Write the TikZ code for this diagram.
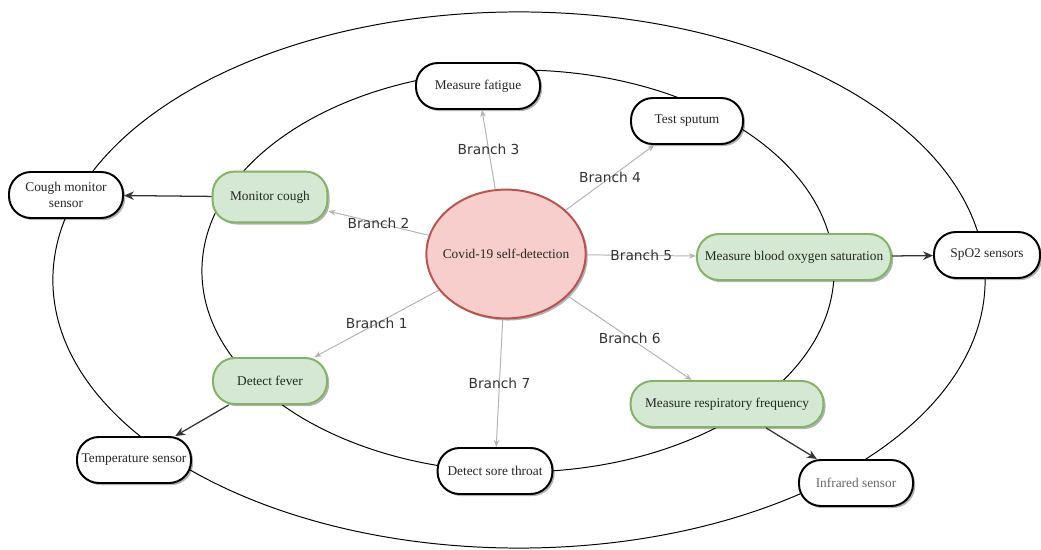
\documentclass[tikz,border=0pt]{standalone}
\usepackage{fontspec}
\setmainfont{Liberation Serif}
\newfontfamily\branchfont{DejaVu Sans}
\usepackage{tikz}
\usetikzlibrary{arrows.meta,shapes.geometric,shadows}

\definecolor{symfill}{HTML}{D5E8D4}
\definecolor{symline}{HTML}{82B366}
\definecolor{hubfill}{HTML}{F8CECC}
\definecolor{hubline}{HTML}{B85450}
\definecolor{branchgray}{HTML}{B3B3B3}
\definecolor{linkgray}{HTML}{333333}

\begin{document}
\begin{tikzpicture}[x=0.025cm, y=-0.025cm,
    sensor/.style={draw=black, line width=1.4pt, fill=white, text=black!85,
        rounded corners=0.55cm, minimum height=1.15cm, inner sep=1pt,
        font={\fontsize{9.5}{11}\selectfont},
        drop shadow={shadow xshift=1.5pt, shadow yshift=-1.5pt, opacity=0.3, fill=black}},
    symptom/.style={sensor, draw=symline, fill=symfill},
    hub/.style={ellipse, draw=hubline, line width=1.4pt, fill=hubfill, text=black!85,
        minimum width=3.98cm, minimum height=3.22cm, inner xsep=-0.3cm, inner ysep=0pt,
        font={\fontsize{9.5}{11}\selectfont},
        drop shadow={shadow xshift=1.5pt, shadow yshift=-1.5pt, opacity=0.3, fill=black}},
    branch/.style={draw=branchgray, line width=0.7pt, -{Stealth[length=5pt, width=4pt]}},
    blabel/.style={midway, text=linkgray, font={\branchfont\fontsize{9.8}{11}\selectfont}},
    link/.style={draw=linkgray, line width=0.9pt, -{Stealth[length=7pt, width=6pt]}}]
        \useasboundingbox (0,0) rectangle (1041,550);
        \draw[line width=0.7pt] (519,280) ellipse [x radius=11.65cm, y radius=6.7cm];
        \draw[line width=0.7pt] (518,271) ellipse [x radius=7.9cm, y radius=5.025cm];

        \node[hub] (hub) at (506,254) {Covid-19 self-detection};
        \node[sensor, minimum width=3.1cm] (fatigue) at (478,86) {Measure fatigue};
        \node[sensor, minimum width=2.8cm] (sputum) at (687,121) {Test sputum};
        \node[symptom, minimum width=2.87cm, minimum height=1.27cm] (cough) at (270,197) {Monitor cough};
        \node[symptom, minimum width=4.85cm] (oxygen) at (794,257) {Measure blood oxygen saturation};
        \node[symptom, minimum width=2.85cm] (fever) at (270,381) {Detect fever};
        \node[symptom, minimum width=4.82cm] (breath) at (727,404) {Measure respiratory frequency};
        \node[sensor, minimum width=2.87cm] (throat) at (495,471) {Detect sore throat};
        \node[sensor, minimum width=2.85cm, align=center] (coughsensor) at (66,195) {Cough monitor\\sensor};
        \node[sensor, minimum width=2.65cm] (spo) at (987,255) {SpO2 sensors};
        \node[sensor, minimum width=2.85cm] (tempsensor) at (134,460) {Temperature sensor};
        \node[sensor, minimum width=2.85cm, text=black!60] (irsensor) at (856,483) {Infrared sensor};

        \draw[branch] (hub) -- node[blabel] {Branch 1} (fever);
        \draw[branch] (hub) -- node[blabel] {Branch 2} (cough);
        \draw[branch] (hub) -- node[blabel] {Branch 3} (fatigue);
        \draw[branch] (hub) -- node[blabel] {Branch 4} (sputum);
        \draw[branch] (hub) -- node[blabel] {Branch 5} (oxygen);
        \draw[branch] (hub) -- node[blabel] {Branch 6} (breath);
        \draw[branch] (hub) -- node[blabel] {Branch 7} (throat);

        \draw[link] (cough) -- (coughsensor);
        \draw[link] (oxygen) -- (spo);
        \draw[link] (fever) -- (tempsensor);
        \draw[link] (breath) -- (irsensor);
\end{tikzpicture}
\end{document}
